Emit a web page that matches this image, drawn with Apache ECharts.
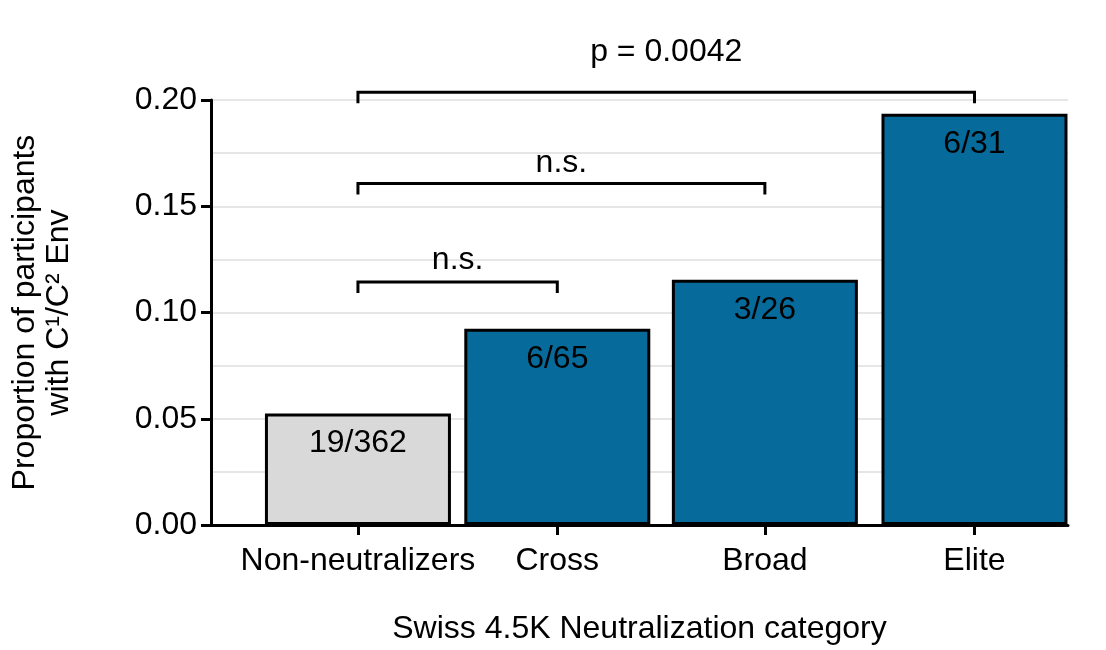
<!DOCTYPE html>
<html>
<head>
<meta charset="utf-8">
<script src="https://cdn.jsdelivr.net/npm/echarts@6/dist/echarts.min.js"></script>
<style>html,body{margin:0;padding:0;background:#fff;overflow:hidden}#chart1{width:100vw;height:100vh}</style>
</head>
<body>
<div id="chart1"></div>
<script>
// data
var categories = ['Non-neutralizers', 'Cross', 'Broad', 'Elite'];
var proportions = [0.0525, 0.0923, 0.1154, 0.1935];
var barLabels = ['19/362', '6/65', '3/26', '6/31'];
var bracketFrom = [0, 0, 0];
var bracketTo = [3, 2, 1];
var bracketY = [0.2036, 0.1607, 0.1143];
var bracketText = ['p = 0.0042', 'n.s.', 'n.s.'];
var bracketTextGap = [40, 20, 22];

function chart() {
  var minechart1 = echarts.init(document.getElementById('chart1'));
  var textFont = 'Liberation Sans, Arial, sans-serif';
  var option = {
    animation: false,
    grid: { left: 205, width: 863, top: 100, height: 448 },
    xAxis: {
      type: 'value',
      min: -0.715,
      max: 3.455,
      name: 'Swiss 4.5K Neutralization category',
      nameLocation: 'middle',
      nameGap: 88,
      nameTextStyle: { fontSize: 32, color: '#000', fontFamily: textFont },
      axisLine: { lineStyle: { color: '#000', width: 3 } },
      axisTick: { show: true, customValues: [0, 0.97, 1.98, 3], length: 10, lineStyle: { color: '#000', width: 3 } },
      axisLabel: {
        customValues: [0, 0.97, 1.98, 3],
        formatter: function (v) { return categories[Math.round(v)]; },
        fontSize: 32, color: '#000', margin: 20, fontFamily: textFont
      },
      splitLine: { show: false }
    },
    yAxis: {
      type: 'value',
      min: 0,
      max: 0.2,
      interval: 0.05,
      name: 'Proportion of participants\nwith C\u00b9/C\u00b2 Env',
      nameLocation: 'middle',
      nameGap: 135,
      nameTextStyle: { fontSize: 32, color: '#000', lineHeight: 34, fontFamily: textFont },
      axisLine: { show: true, onZero: false, lineStyle: { color: '#000', width: 3 } },
      axisTick: { show: true, length: 10, lineStyle: { color: '#000', width: 3 } },
      axisLabel: {
        formatter: function (v) { return v.toFixed(2); },
        fontSize: 32, color: '#000', margin: 14, fontFamily: textFont
      },
      splitLine: { show: true, lineStyle: { color: '#e6e6e6', width: 2 } },
      minorTick: { show: false, splitNumber: 2 },
      minorSplitLine: { show: true, lineStyle: { color: '#e6e6e6', width: 2 } }
    },
    series: [{
      type: 'bar',
      barWidth: 186,
      data: proportions.map(function (v, i) {
        return {
          value: [[0, 0.97, 1.98, 3][i], v],
          itemStyle: { color: i === 0 ? '#d9d9d9' : '#066a9b', borderColor: '#000', borderWidth: 3 }
        };
      }),
      label: {
        show: true,
        position: 'insideTop',
        distance: 14,
        fontSize: 32,
        color: '#000',
        fontFamily: textFont,
        formatter: function (p) { return barLabels[p.dataIndex]; }
      }
    }, {
      type: 'custom',
      clip: false,
      silent: true,
      data: bracketY.map(function (y, i) {
        var pos = [0, 0.97, 1.98, 3];
        return [pos[bracketFrom[i]], pos[bracketTo[i]], y];
      }),
      renderItem: function (params, api) {
        var a = api.coord([api.value(0), api.value(2)]);
        var b = api.coord([api.value(1), api.value(2)]);
        var i = params.dataIndex;
        return {
          type: 'group',
          children: [{
            type: 'polyline',
            shape: { points: [[a[0], a[1] + 11], a, b, [b[0], b[1] + 11]] },
            style: { stroke: '#000', lineWidth: 3, fill: null }
          }, {
            type: 'text',
            x: (a[0] + b[0]) / 2,
            y: a[1] - bracketTextGap[i],
            style: {
              text: bracketText[i], fill: '#000', fontSize: 32, fontFamily: textFont,
              align: 'center', verticalAlign: 'middle'
            }
          }]
        };
      }
    }]
  };
  minechart1.setOption(option);
}
chart();
</script>
</body>
</html>
